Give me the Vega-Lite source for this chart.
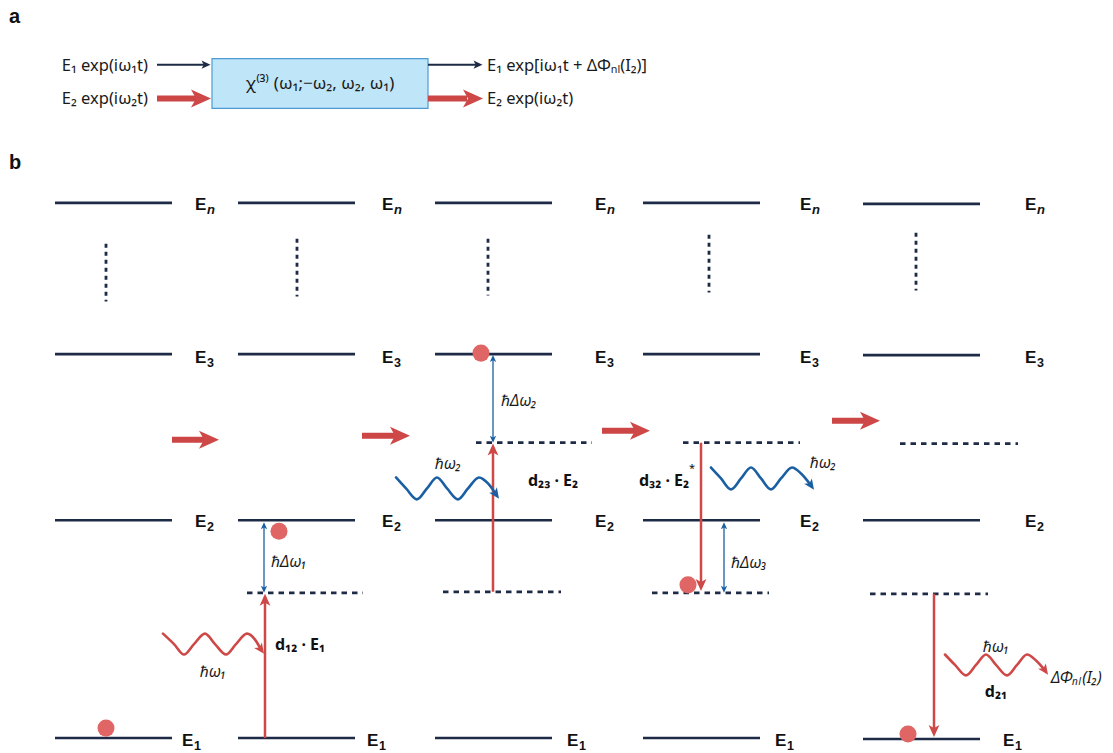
{
  "$schema": "https://vega.github.io/schema/vega-lite/v6.json",
  "width": 1113,
  "height": 753,
  "autosize": {"type": "fit", "contains": "padding"},
  "padding": 0,
  "background": "white",
  "view": {"stroke": null},
  "config": {"font": "Noto Sans"},
  "datasets": {
    "box": [{"x": 212, "y": 59, "x2": 428, "y2": 109}],
    "segs": [
      {"x": 55, "y": 204, "x2": 172, "y2": 204, "k": "lvl"},
      {"x": 55, "y": 356, "x2": 172, "y2": 356, "k": "lvl"},
      {"x": 55, "y": 523, "x2": 172, "y2": 523, "k": "lvl"},
      {"x": 55, "y": 742, "x2": 172, "y2": 742, "k": "lvl"},
      {"x": 238, "y": 204, "x2": 355, "y2": 204, "k": "lvl"},
      {"x": 238, "y": 356, "x2": 355, "y2": 356, "k": "lvl"},
      {"x": 238, "y": 523, "x2": 355, "y2": 523, "k": "lvl"},
      {"x": 238, "y": 742, "x2": 355, "y2": 742, "k": "lvl"},
      {"x": 435, "y": 204, "x2": 552, "y2": 204, "k": "lvl"},
      {"x": 435, "y": 356, "x2": 552, "y2": 356, "k": "lvl"},
      {"x": 435, "y": 523, "x2": 552, "y2": 523, "k": "lvl"},
      {"x": 435, "y": 742, "x2": 552, "y2": 742, "k": "lvl"},
      {"x": 643, "y": 204, "x2": 760, "y2": 204, "k": "lvl"},
      {"x": 643, "y": 356, "x2": 760, "y2": 356, "k": "lvl"},
      {"x": 643, "y": 523, "x2": 760, "y2": 523, "k": "lvl"},
      {"x": 643, "y": 742, "x2": 760, "y2": 742, "k": "lvl"},
      {"x": 863, "y": 205, "x2": 980, "y2": 205, "k": "lvl"},
      {"x": 863, "y": 357, "x2": 980, "y2": 357, "k": "lvl"},
      {"x": 863, "y": 523, "x2": 980, "y2": 523, "k": "lvl"},
      {"x": 863, "y": 743, "x2": 980, "y2": 743, "k": "lvl"},
      {"x": 106, "y": 245, "x2": 106, "y2": 303, "k": "dot"},
      {"x": 297, "y": 240, "x2": 297, "y2": 298, "k": "dot"},
      {"x": 488, "y": 240, "x2": 488, "y2": 297, "k": "dot"},
      {"x": 709, "y": 236, "x2": 709, "y2": 294, "k": "dot"},
      {"x": 916, "y": 234, "x2": 916, "y2": 292, "k": "dot"},
      {"x": 247, "y": 596, "x2": 363, "y2": 596, "k": "dash"},
      {"x": 476, "y": 445, "x2": 592, "y2": 445, "k": "dash"},
      {"x": 443, "y": 595, "x2": 561, "y2": 595, "k": "dash"},
      {"x": 683, "y": 445, "x2": 800, "y2": 445, "k": "dash"},
      {"x": 652, "y": 596, "x2": 769, "y2": 596, "k": "dash"},
      {"x": 900, "y": 446, "x2": 1018, "y2": 446, "k": "dash"},
      {"x": 870, "y": 597, "x2": 988, "y2": 597, "k": "dash"},
      {"x": 265, "y": 742, "x2": 265, "y2": 600, "k": "red"},
      {"x": 493, "y": 595, "x2": 493, "y2": 450, "k": "red"},
      {"x": 701, "y": 445, "x2": 701, "y2": 590, "k": "red"},
      {"x": 934, "y": 597, "x2": 934, "y2": 737, "k": "red"},
      {"x": 264, "y": 527, "x2": 264, "y2": 593, "k": "blue"},
      {"x": 493, "y": 359, "x2": 493, "y2": 442, "k": "blue"},
      {"x": 724, "y": 527, "x2": 724, "y2": 591, "k": "blue"},
      {"x": 157, "y": 65, "x2": 204, "y2": 65, "k": "navyA"},
      {"x": 428, "y": 65, "x2": 476, "y2": 65, "k": "navyA"},
      {"x": 157, "y": 99, "x2": 196, "y2": 99, "k": "thick"},
      {"x": 428, "y": 99, "x2": 467, "y2": 99, "k": "thick"},
      {"x": 172, "y": 442, "x2": 205, "y2": 442, "k": "thick"},
      {"x": 362, "y": 438, "x2": 398, "y2": 438, "k": "thick"},
      {"x": 602, "y": 433, "x2": 638, "y2": 433, "k": "thick"},
      {"x": 832, "y": 423, "x2": 868, "y2": 423, "k": "thick"}
    ],
    "heads": [
      {"x": 265, "y": 603, "dir": "up", "k": "red", "c": "red"},
      {"x": 493, "y": 452, "dir": "up", "k": "red", "c": "red"},
      {"x": 701, "y": 588, "dir": "down", "k": "red", "c": "red"},
      {"x": 934, "y": 735, "dir": "down", "k": "red", "c": "red"},
      {"x": 264, "y": 528.5, "dir": "up", "k": "blue", "c": "blue"},
      {"x": 264, "y": 592.5, "dir": "down", "k": "blue", "c": "blue"},
      {"x": 493, "y": 360.5, "dir": "up", "k": "blue", "c": "blue"},
      {"x": 493, "y": 441.5, "dir": "down", "k": "blue", "c": "blue"},
      {"x": 724, "y": 528.5, "dir": "up", "k": "blue", "c": "blue"},
      {"x": 724, "y": 592.5, "dir": "down", "k": "blue", "c": "blue"},
      {"x": 206, "y": 65, "dir": "right", "k": "navyA", "c": "navy"},
      {"x": 478, "y": 65, "dir": "right", "k": "navyA", "c": "navy"},
      {"x": 201, "y": 99, "dir": "right", "k": "thick", "c": "red"},
      {"x": 473, "y": 99, "dir": "right", "k": "thick", "c": "red"},
      {"x": 209, "y": 442, "dir": "right", "k": "thick", "c": "red"},
      {"x": 400, "y": 438, "dir": "right", "k": "thick", "c": "red"},
      {"x": 640, "y": 433, "dir": "right", "k": "thick", "c": "red"},
      {"x": 870, "y": 423, "dir": "right", "k": "thick", "c": "red"},
      {"x": 261, "y": 653, "dir": "dr", "k": "wave", "c": "red"},
      {"x": 496, "y": 497, "dir": "dr", "k": "wave", "c": "blue"},
      {"x": 811, "y": 488, "dir": "dr", "k": "wave", "c": "blue"},
      {"x": 1045, "y": 674, "dir": "dr", "k": "wave", "c": "red"}
    ],
    "waves": [
      {"id": "w1", "o": 1, "x": 163, "y": 637, "c": "red"},
      {"id": "w1", "o": 2, "x": 174, "y": 647.5, "c": "red"},
      {"id": "w1", "o": 3, "x": 184, "y": 658, "c": "red"},
      {"id": "w1", "o": 4, "x": 194, "y": 647.5, "c": "red"},
      {"id": "w1", "o": 5, "x": 205, "y": 637, "c": "red"},
      {"id": "w1", "o": 6, "x": 215, "y": 647.5, "c": "red"},
      {"id": "w1", "o": 7, "x": 226, "y": 658, "c": "red"},
      {"id": "w1", "o": 8, "x": 236, "y": 647.5, "c": "red"},
      {"id": "w1", "o": 9, "x": 247, "y": 637, "c": "red"},
      {"id": "w1", "o": 10, "x": 255, "y": 643, "c": "red"},
      {"id": "w1", "o": 11, "x": 261, "y": 653, "c": "red"},
      {"id": "w2", "o": 1, "x": 396, "y": 480, "c": "blue"},
      {"id": "w2", "o": 2, "x": 406, "y": 491, "c": "blue"},
      {"id": "w2", "o": 3, "x": 417, "y": 502, "c": "blue"},
      {"id": "w2", "o": 4, "x": 427, "y": 491, "c": "blue"},
      {"id": "w2", "o": 5, "x": 437, "y": 480, "c": "blue"},
      {"id": "w2", "o": 6, "x": 447, "y": 491, "c": "blue"},
      {"id": "w2", "o": 7, "x": 458, "y": 502, "c": "blue"},
      {"id": "w2", "o": 8, "x": 468, "y": 491, "c": "blue"},
      {"id": "w2", "o": 9, "x": 479, "y": 480, "c": "blue"},
      {"id": "w2", "o": 10, "x": 488, "y": 486, "c": "blue"},
      {"id": "w2", "o": 11, "x": 496, "y": 497, "c": "blue"},
      {"id": "w3", "o": 1, "x": 711, "y": 470, "c": "blue"},
      {"id": "w3", "o": 2, "x": 721, "y": 481, "c": "blue"},
      {"id": "w3", "o": 3, "x": 731, "y": 492, "c": "blue"},
      {"id": "w3", "o": 4, "x": 741, "y": 481, "c": "blue"},
      {"id": "w3", "o": 5, "x": 751, "y": 470, "c": "blue"},
      {"id": "w3", "o": 6, "x": 761, "y": 481, "c": "blue"},
      {"id": "w3", "o": 7, "x": 771, "y": 492, "c": "blue"},
      {"id": "w3", "o": 8, "x": 781, "y": 481, "c": "blue"},
      {"id": "w3", "o": 9, "x": 792, "y": 470, "c": "blue"},
      {"id": "w3", "o": 10, "x": 801, "y": 476, "c": "blue"},
      {"id": "w3", "o": 11, "x": 811, "y": 488, "c": "blue"},
      {"id": "w4", "o": 1, "x": 945, "y": 658, "c": "red"},
      {"id": "w4", "o": 2, "x": 955, "y": 668.5, "c": "red"},
      {"id": "w4", "o": 3, "x": 966, "y": 679, "c": "red"},
      {"id": "w4", "o": 4, "x": 976, "y": 668.5, "c": "red"},
      {"id": "w4", "o": 5, "x": 986, "y": 658, "c": "red"},
      {"id": "w4", "o": 6, "x": 996, "y": 668.5, "c": "red"},
      {"id": "w4", "o": 7, "x": 1007, "y": 679, "c": "red"},
      {"id": "w4", "o": 8, "x": 1017, "y": 668.5, "c": "red"},
      {"id": "w4", "o": 9, "x": 1027, "y": 658, "c": "red"},
      {"id": "w4", "o": 10, "x": 1036, "y": 664, "c": "red"},
      {"id": "w4", "o": 11, "x": 1045, "y": 674, "c": "red"}
    ],
    "dots": [
      {"x": 106, "y": 732},
      {"x": 279, "y": 534},
      {"x": 481, "y": 355},
      {"x": 688, "y": 588},
      {"x": 908, "y": 738}
    ],
    "texts": [
      {"x": 9, "y": 17, "t": "a", "g": "hd"},
      {"x": 9, "y": 164, "t": "b", "g": "hd"},
      {"x": 195, "y": 206, "t": "E", "g": "el"},
      {"x": 382, "y": 206, "t": "E", "g": "el"},
      {"x": 595, "y": 206, "t": "E", "g": "el"},
      {"x": 800, "y": 206, "t": "E", "g": "el"},
      {"x": 1025, "y": 206, "t": "E", "g": "el"},
      {"x": 207, "y": 211, "t": "n", "g": "en"},
      {"x": 394, "y": 211, "t": "n", "g": "en"},
      {"x": 607, "y": 211, "t": "n", "g": "en"},
      {"x": 812, "y": 211, "t": "n", "g": "en"},
      {"x": 1037, "y": 211, "t": "n", "g": "en"},
      {"x": 195, "y": 360, "t": "E", "g": "el"},
      {"x": 382, "y": 360, "t": "E", "g": "el"},
      {"x": 595, "y": 360, "t": "E", "g": "el"},
      {"x": 800, "y": 360, "t": "E", "g": "el"},
      {"x": 1025, "y": 360, "t": "E", "g": "el"},
      {"x": 207, "y": 365, "t": "3", "g": "es"},
      {"x": 394, "y": 365, "t": "3", "g": "es"},
      {"x": 607, "y": 365, "t": "3", "g": "es"},
      {"x": 812, "y": 365, "t": "3", "g": "es"},
      {"x": 1037, "y": 365, "t": "3", "g": "es"},
      {"x": 195, "y": 525, "t": "E", "g": "el"},
      {"x": 382, "y": 525, "t": "E", "g": "el"},
      {"x": 595, "y": 525, "t": "E", "g": "el"},
      {"x": 800, "y": 525, "t": "E", "g": "el"},
      {"x": 1025, "y": 525, "t": "E", "g": "el"},
      {"x": 207, "y": 530, "t": "2", "g": "es"},
      {"x": 394, "y": 530, "t": "2", "g": "es"},
      {"x": 607, "y": 530, "t": "2", "g": "es"},
      {"x": 812, "y": 530, "t": "2", "g": "es"},
      {"x": 1037, "y": 530, "t": "2", "g": "es"},
      {"x": 182, "y": 745, "t": "E", "g": "el"},
      {"x": 367, "y": 745, "t": "E", "g": "el"},
      {"x": 567, "y": 745, "t": "E", "g": "el"},
      {"x": 775, "y": 745, "t": "E", "g": "el"},
      {"x": 1003, "y": 745, "t": "E", "g": "el"},
      {"x": 194, "y": 750, "t": "1", "g": "es"},
      {"x": 379, "y": 750, "t": "1", "g": "es"},
      {"x": 579, "y": 750, "t": "1", "g": "es"},
      {"x": 787, "y": 750, "t": "1", "g": "es"},
      {"x": 1015, "y": 750, "t": "1", "g": "es"},
      {"x": 148, "y": 66, "t": "E₁ exp(iω₁t)", "g": "aR"},
      {"x": 148, "y": 100, "t": "E₂ exp(iω₂t)", "g": "aR"},
      {"x": 487, "y": 66, "t": "E₁ exp[iω₁t + ΔΦₙₗ(I₂)]", "g": "aL"},
      {"x": 487, "y": 100, "t": "E₂ exp(iω₂t)", "g": "aL"},
      {"x": 271, "y": 565, "t": "ℏΔω₁", "g": "hL"},
      {"x": 501, "y": 403, "t": "ℏΔω₂", "g": "hL"},
      {"x": 731, "y": 566, "t": "ℏΔω₃", "g": "hL"},
      {"x": 1051, "y": 682, "t": "ΔΦₙₗ(I₂)", "g": "hL"},
      {"x": 320, "y": 84, "t": "χ⁽³⁾ (ω₁;−ω₂, ω₂, ω₁)", "g": "aC"},
      {"x": 213, "y": 676, "t": "ℏω₁", "g": "hC"},
      {"x": 448, "y": 466, "t": "ℏω₂", "g": "hC"},
      {"x": 823, "y": 465, "t": "ℏω₂", "g": "hC"},
      {"x": 996, "y": 650, "t": "ℏω₁", "g": "hC"},
      {"x": 275, "y": 648, "t": "d₁₂ · E₁", "g": "bL"},
      {"x": 528, "y": 484, "t": "d₂₃ · E₂", "g": "bL"},
      {"x": 639, "y": 484, "t": "d₃₂ · E₂", "g": "bL"},
      {"x": 996, "y": 696, "t": "d₂₁", "g": "bC"},
      {"x": 692, "y": 472, "t": "*", "g": "st"}
    ]
  },
  "encoding": {
    "x": {"field": "x", "type": "quantitative", "scale": {"domain": [0, 1113], "nice": false, "zero": false}, "axis": null},
    "y": {"field": "y", "type": "quantitative", "scale": {"domain": [0, 753], "nice": false, "zero": false, "reverse": true}, "axis": null}
  },
  "layer": [
    {
      "data": {"name": "box"},
      "mark": {"type": "rect", "fill": "#bfe5f8", "stroke": "#4e9bd4", "strokeWidth": 1.2},
      "encoding": {"x2": {"field": "x2"}, "y2": {"field": "y2"}}
    },
    {
      "data": {"name": "segs"},
      "mark": {"type": "rule"},
      "encoding": {
        "x2": {"field": "x2"},
        "y2": {"field": "y2"},
        "color": {"field": "k", "type": "nominal", "legend": null,
          "scale": {"type": "ordinal", "domain": ["lvl", "dot", "dash", "red", "blue", "navyA", "thick"],
                    "range": ["#1e2b47", "#1e2b47", "#1e2b47", "#cf4848", "#1b5fa3", "#1e2b47", "#cd4646"]}},
        "strokeWidth": {"field": "k", "type": "nominal", "legend": null,
          "scale": {"type": "ordinal", "domain": ["lvl", "dot", "dash", "red", "blue", "navyA", "thick"],
                    "range": [2.6, 2.8, 2.6, 2.5, 1.3, 2, 6]}},
        "strokeDash": {"field": "k", "type": "nominal", "legend": null,
          "scale": {"type": "ordinal", "domain": ["lvl", "dot", "dash", "red", "blue", "navyA", "thick"],
                    "range": [[1, 0], [4, 4], [5.5, 5], [1, 0], [1, 0], [1, 0], [1, 0]]}}
      }
    },
    {
      "data": {"name": "waves"},
      "mark": {"type": "line", "interpolate": "monotone", "strokeWidth": 2.6, "strokeCap": "round"},
      "encoding": {
        "detail": {"field": "id"},
        "order": {"field": "o", "type": "quantitative"},
        "color": {"field": "c", "type": "nominal", "legend": null,
          "scale": {"type": "ordinal", "domain": ["red", "blue", "navy"], "range": ["#d04f4f", "#1b5fa3", "#1e2b47"]}}
      }
    },
    {
      "data": {"name": "heads"},
      "mark": {"type": "point", "filled": true, "opacity": 1, "shape": "M1,0L-1,-0.9L-0.5,0L-1,0.9Z", "strokeWidth": 0},
      "encoding": {
        "color": {"field": "c", "type": "nominal", "legend": null,
          "scale": {"type": "ordinal", "domain": ["red", "blue", "navy"], "range": ["#cd4646", "#1b5fa3", "#1e2b47"]}},
        "angle": {"field": "dir", "type": "nominal", "legend": null,
          "scale": {"type": "ordinal", "domain": ["up", "down", "right", "dr"], "range": [-90, 90, 0, 55]}},
        "size": {"field": "k", "type": "nominal", "legend": null,
          "scale": {"type": "ordinal", "domain": ["red", "blue", "navyA", "thick", "wave"], "range": [144, 49, 81, 400, 110]}}
      }
    },
    {
      "data": {"name": "dots"},
      "mark": {"type": "point", "shape": "circle", "filled": true, "opacity": 1, "color": "#e06666", "size": 290}
    },
    {
      "data": {"name": "texts"},
      "transform": [{"filter": "datum.g == 'hd'"}],
      "mark": {"type": "text", "align": "left", "baseline": "middle", "fontSize": 20, "fontWeight": "bold", "color": "#111111", "font": "Liberation Sans"},
      "encoding": {"text": {"field": "t"}}
    },
    {
      "data": {"name": "texts"},
      "transform": [{"filter": "datum.g == 'el'"}],
      "mark": {"type": "text", "align": "left", "baseline": "middle", "fontSize": 17, "fontWeight": "bold", "color": "#111111", "font": "Liberation Sans"},
      "encoding": {"text": {"field": "t"}}
    },
    {
      "data": {"name": "texts"},
      "transform": [{"filter": "datum.g == 'es'"}],
      "mark": {"type": "text", "align": "left", "baseline": "middle", "fontSize": 12.5, "fontWeight": "bold", "color": "#111111", "font": "Liberation Sans"},
      "encoding": {"text": {"field": "t"}}
    },
    {
      "data": {"name": "texts"},
      "transform": [{"filter": "datum.g == 'en'"}],
      "mark": {"type": "text", "align": "left", "baseline": "middle", "fontSize": 13, "fontWeight": "bold", "fontStyle": "italic", "color": "#111111", "font": "Liberation Sans"},
      "encoding": {"text": {"field": "t"}}
    },
    {
      "data": {"name": "texts"},
      "transform": [{"filter": "datum.g == 'aR'"}],
      "mark": {"type": "text", "align": "right", "baseline": "middle", "fontSize": 16.5, "color": "#1a1a1a"},
      "encoding": {"text": {"field": "t"}}
    },
    {
      "data": {"name": "texts"},
      "transform": [{"filter": "datum.g == 'aL'"}],
      "mark": {"type": "text", "align": "left", "baseline": "middle", "fontSize": 16.5, "color": "#1a1a1a"},
      "encoding": {"text": {"field": "t"}}
    },
    {
      "data": {"name": "texts"},
      "transform": [{"filter": "datum.g == 'aC'"}],
      "mark": {"type": "text", "align": "center", "baseline": "middle", "fontSize": 17, "color": "#1a1a1a"},
      "encoding": {"text": {"field": "t"}}
    },
    {
      "data": {"name": "texts"},
      "transform": [{"filter": "datum.g == 'hL'"}],
      "mark": {"type": "text", "align": "left", "baseline": "middle", "fontSize": 15.5, "fontStyle": "italic", "color": "#1a1a1a"},
      "encoding": {"text": {"field": "t"}}
    },
    {
      "data": {"name": "texts"},
      "transform": [{"filter": "datum.g == 'hC'"}],
      "mark": {"type": "text", "align": "center", "baseline": "middle", "fontSize": 15.5, "fontStyle": "italic", "color": "#1a1a1a"},
      "encoding": {"text": {"field": "t"}}
    },
    {
      "data": {"name": "texts"},
      "transform": [{"filter": "datum.g == 'bL'"}],
      "mark": {"type": "text", "align": "left", "baseline": "middle", "fontSize": 16, "fontWeight": "bold", "color": "#111111"},
      "encoding": {"text": {"field": "t"}}
    },
    {
      "data": {"name": "texts"},
      "transform": [{"filter": "datum.g == 'bC'"}],
      "mark": {"type": "text", "align": "center", "baseline": "middle", "fontSize": 16, "fontWeight": "bold", "color": "#111111"},
      "encoding": {"text": {"field": "t"}}
    },
    {
      "data": {"name": "texts"},
      "transform": [{"filter": "datum.g == 'st'"}],
      "mark": {"type": "text", "align": "center", "baseline": "middle", "fontSize": 11, "color": "#111111"},
      "encoding": {"text": {"field": "t"}}
    }
  ]
}
